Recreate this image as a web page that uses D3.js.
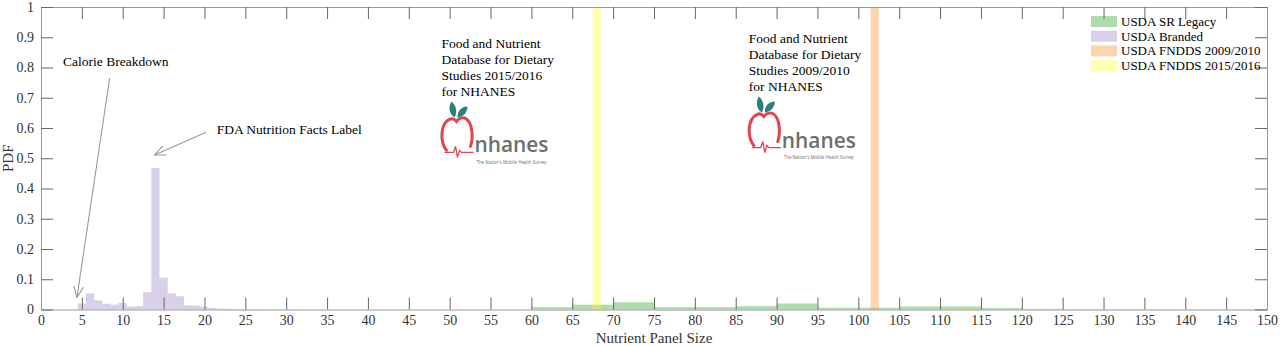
<!DOCTYPE html>
<html>
<head>
<meta charset="utf-8">
<script src="https://cdn.jsdelivr.net/npm/d3@7"></script>
<style>
  body { margin: 0; background: #fff; }
  text { font-family: "Liberation Serif", "Times New Roman", serif; }
</style>
</head>
<body>
<div id="chart"></div>
<script>
// histogram data (PDF per bin)
var brandedCenters = [5, 6, 7, 8, 9, 10, 11, 12, 13, 14, 15, 16, 17, 18, 19, 20, 21, 22, 23, 24, 25, 26, 27, 28, 29, 30];
var brandedPdf = [0.020, 0.053, 0.030, 0.019, 0.016, 0.022, 0.009, 0.011, 0.057, 0.468, 0.105, 0.053, 0.044, 0.014, 0.013, 0.009, 0.005, 0.003, 0.002, 0.001, 0.001, 0.001, 0.001, 0.0005, 0.0005, 0.0005];

var srLeftEdges = [60, 65, 70, 75, 80, 85, 90, 95, 100, 105, 110, 115, 120, 125, 130, 135, 140, 145];
var srPdf = [0.008, 0.016, 0.024, 0.008, 0.008, 0.011, 0.020, 0.006, 0.006, 0.010, 0.010, 0.005, 0.002, 0.001, 0.001, 0.0005, 0.0005, 0.0005];

var fndds0910 = [102];
var fndds1516 = [68];

var xTicks = d3.range(0, 151, 5);
var yTicks = d3.range(0, 11).map(function(i) { return i / 10; });

var legendLabels = ["USDA SR Legacy", "USDA Branded", "USDA FNDDS 2009/2010", "USDA FNDDS 2015/2016"];
var colors = ["#4daf4a", "#7d62b2", "#f79339", "#ffff39"];
var alphas = [0.45, 0.3, 0.4, 0.4];

// annotations in data coordinates
var notes = [
  { lines: ["Calorie Breakdown"], x: 2.7, y: 0.805 },
  { lines: ["FDA Nutrition Facts Label"], x: 21.5, y: 0.58 },
  { lines: ["Food and Nutrient", "Database for Dietary", "Studies 2015/2016", "for NHANES"], x: 49.0, y: 0.865 },
  { lines: ["Food and Nutrient", "Database for Dietary", "Studies 2009/2010", "for NHANES"], x: 86.6, y: 0.881 }
];
var arrows = [
  { from: [8.4, 0.765], to: [4.4, 0.04] },
  { from: [20.2, 0.586], to: [13.9, 0.511] }
];
var logos = [[49.0, 0.688], [86.6, 0.704]];

var width = 1280, height = 346;
var x = d3.scaleLinear().domain([0, 150]).range([41, 1267]);
var y = d3.scaleLinear().domain([0, 1]).range([309.5, 7]);

var svg = d3.select("#chart").append("svg")
  .attr("width", width)
  .attr("height", height);

svg.append("rect").attr("width", width).attr("height", height).attr("fill", "#fff");

// SR Legacy (bins of 5)
svg.append("g").selectAll("rect")
  .data(srLeftEdges)
  .enter().append("rect")
  .attr("x", function(d) { return x(d); })
  .attr("width", function(d) { return x(d + 5) - x(d); })
  .attr("y", function(d, i) { return y(srPdf[i]); })
  .attr("height", function(d, i) { return y(0) - y(srPdf[i]); })
  .attr("fill", colors[0]).attr("fill-opacity", alphas[0]);

// Branded (bins of 1)
svg.append("g").selectAll("rect")
  .data(brandedCenters)
  .enter().append("rect")
  .attr("x", function(d) { return x(d - 0.5); })
  .attr("width", function(d) { return x(d + 0.5) - x(d - 0.5); })
  .attr("y", function(d, i) { return y(brandedPdf[i]); })
  .attr("height", function(d, i) { return y(0) - y(brandedPdf[i]); })
  .attr("fill", colors[1]).attr("fill-opacity", alphas[1]);

// FNDDS single-value bins
[[fndds0910, 2], [fndds1516, 3]].forEach(function(s) {
  svg.append("g").selectAll("rect")
    .data(s[0])
    .enter().append("rect")
    .attr("x", function(d) { return x(d - 0.5); })
    .attr("width", function(d) { return x(d + 0.5) - x(d - 0.5); })
    .attr("y", y(1))
    .attr("height", y(0) - y(1))
    .attr("fill", colors[s[1]]).attr("fill-opacity", alphas[s[1]]);
});

// axes (box, ticks inside)
function styleAxis(g) {
  g.select(".domain").attr("stroke", "#999").attr("stroke-width", 1);
  g.selectAll(".tick line").attr("stroke", "#666");
  g.selectAll(".tick text")
    .attr("fill", "#333")
    .style("font-family", "'Liberation Serif', serif")
    .style("font-size", "14px");
}

svg.append("g")
  .attr("transform", "translate(0," + y(0) + ")")
  .call(d3.axisBottom(x).tickValues(xTicks).tickSizeInner(-12).tickSizeOuter(0).tickPadding(6))
  .call(styleAxis);
svg.append("g")
  .attr("transform", "translate(0," + y(1) + ")")
  .call(d3.axisTop(x).tickValues(xTicks).tickSizeInner(-12).tickSizeOuter(0).tickFormat(""))
  .call(styleAxis);
svg.append("g")
  .attr("transform", "translate(" + x(0) + ",0)")
  .call(d3.axisLeft(y).tickValues(yTicks).tickSizeInner(-12).tickSizeOuter(0).tickPadding(7).tickFormat(d3.format("~g")))
  .call(styleAxis);
svg.append("g")
  .attr("transform", "translate(" + x(150) + ",0)")
  .call(d3.axisRight(y).tickValues(yTicks).tickSizeInner(-12).tickSizeOuter(0).tickFormat(""))
  .call(styleAxis);

// axis labels
svg.append("text")
  .attr("x", (x(0) + x(150)) / 2).attr("y", 343)
  .attr("text-anchor", "middle")
  .attr("fill", "#333")
  .style("font-size", "15px")
  .text("Nutrient Panel Size");
svg.append("text")
  .attr("transform", "translate(13," + y(0.5) + ") rotate(-90)")
  .attr("text-anchor", "middle")
  .attr("fill", "#333")
  .style("font-size", "15px")
  .text("PDF");

// annotations
notes.forEach(function(n) {
  var t = svg.append("text")
    .attr("x", x(n.x)).attr("y", y(n.y))
    .attr("fill", "#000")
    .style("font-size", "13.5px");
  n.lines.forEach(function(l, i) {
    t.append("tspan").attr("x", x(n.x)).attr("dy", i === 0 ? 0 : 16).text(l);
  });
});

arrows.forEach(function(a) {
  var x1 = x(a.from[0]), y1 = y(a.from[1]), x2 = x(a.to[0]), y2 = y(a.to[1]);
  var ang = Math.atan2(y2 - y1, x2 - x1);
  var g = svg.append("g").attr("stroke", "#999").attr("stroke-width", 1.1).attr("fill", "none");
  g.append("line").attr("x1", x1).attr("y1", y1).attr("x2", x2).attr("y2", y2);
  var hl = 12, ha = 0.42;
  g.append("path").attr("d",
    "M" + (x2 - hl * Math.cos(ang - ha)) + "," + (y2 - hl * Math.sin(ang - ha)) +
    "L" + x2 + "," + y2 +
    "L" + (x2 - hl * Math.cos(ang + ha)) + "," + (y2 - hl * Math.sin(ang + ha)));
});

// NHANES logos (drawn approximation)
logos.forEach(function(p) {
  var g = svg.append("g").attr("transform", "translate(" + x(p[0]) + "," + y(p[1]) + ")");
  g.append("path").attr("fill", "#2b7f83")
    .attr("d", "M13,16 C7,12 7,5 10,0 C15,4 16,11 13,16 Z");
  g.append("path").attr("fill", "#2b7f83")
    .attr("d", "M16,16 C16,9 20,5 26,5 C26,11 22,15 16,16 Z");
  g.append("path").attr("fill", "none").attr("stroke", "#e2444f").attr("stroke-width", 3)
    .attr("stroke-linecap", "round")
    .attr("d", "M5,49 C-2,40 -1,22 8,18 C11,16.5 13,17.5 15,20 C17,17 21,15.5 24,17 C31,21 32,36 29,45");
  g.append("path").attr("fill", "none").attr("stroke", "#e2444f").attr("stroke-width", 1.3)
    .attr("d", "M3,51 L12,51 L14,45 L16,56 L18,49 L20,51 L32,51");
  g.append("text").attr("x", 33).attr("y", 51)
    .attr("fill", "#6d6e71")
    .attr("textLength", 74).attr("lengthAdjust", "spacingAndGlyphs")
    .style("font-family", "'Open Sans', sans-serif")
    .style("font-size", "22px")
    .style("font-weight", "600")
    .text("nhanes");
  g.append("text").attr("x", 35).attr("y", 62.5)
    .attr("fill", "#6d6e71")
    .attr("textLength", 70).attr("lengthAdjust", "spacingAndGlyphs")
    .style("font-family", "'Open Sans', sans-serif")
    .style("font-size", "4.5px")
    .text("The Nation's Mobile Health Survey");
});

// legend
var legend = svg.append("g").attr("transform", "translate(1091,16)");
legendLabels.forEach(function(l, i) {
  var row = legend.append("g").attr("transform", "translate(0," + (i * 14.7) + ")");
  row.append("rect").attr("width", 26).attr("height", 11)
    .attr("fill", colors[i]).attr("fill-opacity", alphas[i]);
  row.append("text").attr("x", 30).attr("y", 10)
    .attr("fill", "#000")
    .style("font-size", "13px")
    .text(l);
});
</script>
</body>
</html>
